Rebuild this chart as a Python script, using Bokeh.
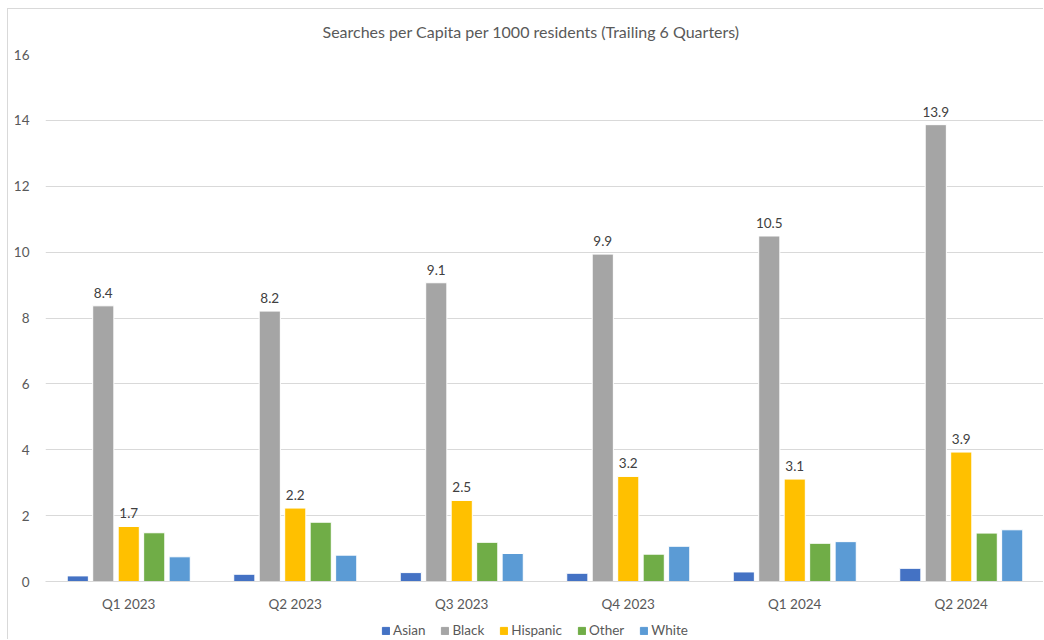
from bokeh.plotting import figure
from bokeh.models import FactorRange, ColumnDataSource, Legend, LegendItem, Range1d, FixedTicker
from bokeh.transform import dodge
from bokeh.core.properties import value
from bokeh.layouts import column
from bokeh.embed import file_html
from bokeh.resources import INLINE

quarters = ["Q1 2023", "Q2 2023", "Q3 2023", "Q4 2023", "Q1 2024", "Q2 2024"]
asian = [0.17, 0.22, 0.27, 0.25, 0.29, 0.40]
black = [8.37, 8.21, 9.07, 9.94, 10.49, 13.87]
hispanic = [1.67, 2.23, 2.46, 3.19, 3.11, 3.93]
other = [1.48, 1.80, 1.19, 0.83, 1.16, 1.47]
white = [0.75, 0.80, 0.85, 1.07, 1.21, 1.57]
series_names = ["Asian", "Black", "Hispanic", "Other", "White"]
series_values = [asian, black, hispanic, other, white]
colors = ["#4472C4", "#A5A5A5", "#FFC000", "#70AD47", "#5B9BD5"]
labeled_series = ["Black", "Hispanic"]
y_ticks = [0, 2, 4, 6, 8, 10, 12, 14, 16]
title_text = "Searches per Capita per 1000 residents (Trailing 6 Quarters)"

FONT = "Lato"
TXT = "#595959"
FS = "13.5px"
BORDER = "1px solid #d9d9d9"

data = {"quarter": quarters}
for name, vals in zip(series_names, series_values):
    data[name] = vals
    data[name + "_lbl"] = ["%.1f" % v for v in vals]
src = ColumnDataSource(data)

p = figure(
    x_range=FactorRange(*quarters, range_padding=0),
    y_range=Range1d(0, 16),
    width=1036, height=612,
    output_backend="svg", toolbar_location=None,
    min_border_left=37, min_border_right=0,
    min_border_top=45, min_border_bottom=40,
)
p.styles = {"border-top": BORDER, "border-left": BORDER}

# separate strip that carries the legend below the chart
lf = figure(
    x_range=FactorRange(*quarters, range_padding=0),
    y_range=Range1d(0, 16),
    width=1036, height=19,
    output_backend="svg", toolbar_location=None,
    x_axis_type=None, y_axis_type=None,
    min_border_left=0, min_border_right=0, min_border_top=0, min_border_bottom=0,
)
lf.styles = {"border-left": BORDER}
lf.xgrid.grid_line_color = None
lf.ygrid.grid_line_color = None
lf.outline_line_color = None

pitch = 0.153
items = []
for i, (name, col) in enumerate(zip(series_names, colors)):
    off = (i - 2) * pitch
    p.vbar(x=dodge("quarter", off, range=p.x_range), top=name, width=0.127,
           source=src, fill_color=col, line_color="white", line_width=1)
    lr = lf.vbar(x=dodge("quarter", off, range=lf.x_range), top=name, width=0.127,
                 source=src, fill_color=col, line_color=col, line_width=1, visible=False)
    items.append(LegendItem(label=name, renderers=[lr]))
    if name in labeled_series:
        p.text(x=dodge("quarter", off, range=p.x_range), y=name, text=name + "_lbl",
               source=src, text_align="center", text_baseline="middle", y_offset=-13,
               text_font=value(FONT), text_font_size=FS, text_color="#404040")

legend = Legend(items=items, orientation="horizontal", location=(335, 0),
                border_line_alpha=0, background_fill_alpha=0,
                glyph_width=9, glyph_height=9, label_standoff=3, spacing=15,
                label_text_font=FONT, label_text_font_size=FS,
                label_text_color=TXT, padding=1, margin=0)
lf.add_layout(legend, "center")

p.title.text = title_text
p.title.align = "left"
p.title.offset = 277
p.title.vertical_align = "top"
p.title.text_font = FONT
p.title.text_font_size = "16px"
p.title.text_font_style = "normal"
p.title.text_color = TXT
p.title.standoff = 24

p.xaxis.axis_line_color = "#d9d9d9"
p.xaxis.major_tick_line_color = None
p.xaxis.minor_tick_line_color = None
p.xaxis.major_tick_out = 0
p.xaxis.major_label_standoff = 14
p.xaxis.major_label_text_font = FONT
p.xaxis.major_label_text_font_size = FS
p.xaxis.major_label_text_color = TXT

p.yaxis.ticker = FixedTicker(ticks=y_ticks)
p.yaxis.axis_line_color = None
p.yaxis.major_tick_line_color = None
p.yaxis.minor_tick_line_color = None
p.yaxis.major_tick_out = 0
p.yaxis.major_label_standoff = 16
p.yaxis.major_label_text_font = FONT
p.yaxis.major_label_text_font_size = FS
p.yaxis.major_label_text_color = TXT

p.xgrid.grid_line_color = None
p.ygrid.grid_line_color = "#d9d9d9"
p.ygrid.grid_line_width = 1
p.outline_line_color = None

layout = column(p, lf, spacing=0)
layout.styles = {"margin-left": "7px", "margin-top": "8px"}

open("out.html", "w").write(file_html(layout, INLINE))
